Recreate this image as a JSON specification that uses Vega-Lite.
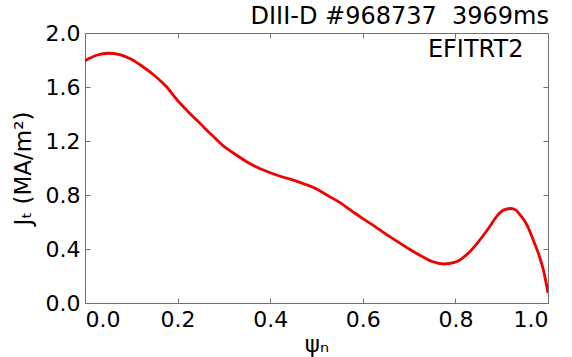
{
  "$schema": "https://vega.github.io/schema/vega-lite/v6.json",
  "width": 463,
  "height": 270,
  "autosize": {"type": "none"},
  "padding": {"left": 85, "top": 33, "right": 24, "bottom": 54},
  "background": "white",
  "config": {
    "font": "DejaVu Sans",
    "view": {"stroke": "#707070", "strokeWidth": 1},
    "axis": {"grid": false, "domain": false, "tickColor": "#707070", "tickSize": -5, "labelColor": "black", "titleColor": "black", "labelFontSize": 22, "titleFontWeight": "normal", "titleFontSize": 23}
  },
  "title": {"text": "DIII-D #968737\u00a0 3969ms", "anchor": "end", "frame": "group", "fontSize": 24, "fontWeight": "normal", "color": "black", "baseline": "alphabetic", "offset": 5, "dy": 31, "dx": 1},
  "data": {"values": [
    {"psi": 0.000, "j": 1.795}, {"psi": 0.025, "j": 1.835}, {"psi": 0.05, "j": 1.850}, {"psi": 0.075, "j": 1.840},
    {"psi": 0.10, "j": 1.805}, {"psi": 0.125, "j": 1.750}, {"psi": 0.15, "j": 1.685}, {"psi": 0.175, "j": 1.605},
    {"psi": 0.20, "j": 1.50}, {"psi": 0.225, "j": 1.41}, {"psi": 0.25, "j": 1.325}, {"psi": 0.275, "j": 1.24},
    {"psi": 0.30, "j": 1.16}, {"psi": 0.325, "j": 1.10}, {"psi": 0.35, "j": 1.045}, {"psi": 0.375, "j": 1.00},
    {"psi": 0.40, "j": 0.965}, {"psi": 0.425, "j": 0.935}, {"psi": 0.45, "j": 0.91}, {"psi": 0.475, "j": 0.88},
    {"psi": 0.50, "j": 0.845}, {"psi": 0.525, "j": 0.795}, {"psi": 0.55, "j": 0.745}, {"psi": 0.575, "j": 0.685},
    {"psi": 0.60, "j": 0.625}, {"psi": 0.625, "j": 0.57}, {"psi": 0.65, "j": 0.51}, {"psi": 0.675, "j": 0.455},
    {"psi": 0.70, "j": 0.40}, {"psi": 0.725, "j": 0.35}, {"psi": 0.75, "j": 0.307}, {"psi": 0.775, "j": 0.289},
    {"psi": 0.80, "j": 0.303}, {"psi": 0.825, "j": 0.36}, {"psi": 0.85, "j": 0.455}, {"psi": 0.875, "j": 0.57},
    {"psi": 0.89, "j": 0.645}, {"psi": 0.905, "j": 0.69}, {"psi": 0.92, "j": 0.70}, {"psi": 0.93, "j": 0.69},
    {"psi": 0.94, "j": 0.652}, {"psi": 0.955, "j": 0.575}, {"psi": 0.97, "j": 0.45}, {"psi": 0.98, "j": 0.36},
    {"psi": 0.99, "j": 0.245}, {"psi": 1.00, "j": 0.075}
  ]},
  "layer": [
    {
      "mark": {"type": "line", "color": "#f00000", "strokeWidth": 2.8, "clip": true, "interpolate": "monotone"},
      "encoding": {
        "x": {"field": "psi", "type": "quantitative", "scale": {"domain": [0, 1], "nice": false},
              "axis": {"orient": "bottom", "values": [0, 0.2, 0.4, 0.6, 0.8, 1.0], "format": ".1f", "labelPadding": 11, "title": "ψₙ", "titlePadding": 3}},
        "y": {"field": "j", "type": "quantitative", "scale": {"domain": [0, 2], "nice": false, "zero": false},
              "axis": {"orient": "left", "values": [0, 0.4, 0.8, 1.2, 1.6, 2.0], "format": ".1f", "labelPadding": 10, "title": "Jₜ (MA/m²)", "titlePadding": 10}}
      }
    },
    {
      "mark": {"type": "line", "strokeOpacity": 0},
      "encoding": {
        "x": {"field": "psi", "type": "quantitative", "axis": {"orient": "top", "values": [0, 0.2, 0.4, 0.6, 0.8, 1.0], "labels": false, "title": null}},
        "y": {"field": "j", "type": "quantitative", "axis": {"orient": "right", "values": [0, 0.4, 0.8, 1.2, 1.6, 2.0], "labels": false, "title": null}}
      }
    },
    {
      "data": {"values": [{"label": "EFITRT2", "px": 0.947, "py": 1.824}]},
      "mark": {"type": "text", "align": "right", "baseline": "alphabetic", "fontSize": 24, "color": "black"},
      "encoding": {
        "text": {"field": "label"},
        "x": {"field": "px", "type": "quantitative", "axis": null},
        "y": {"field": "py", "type": "quantitative", "axis": null}
      }
    }
  ],
  "resolve": {"axis": {"x": "independent", "y": "independent"}}
}
